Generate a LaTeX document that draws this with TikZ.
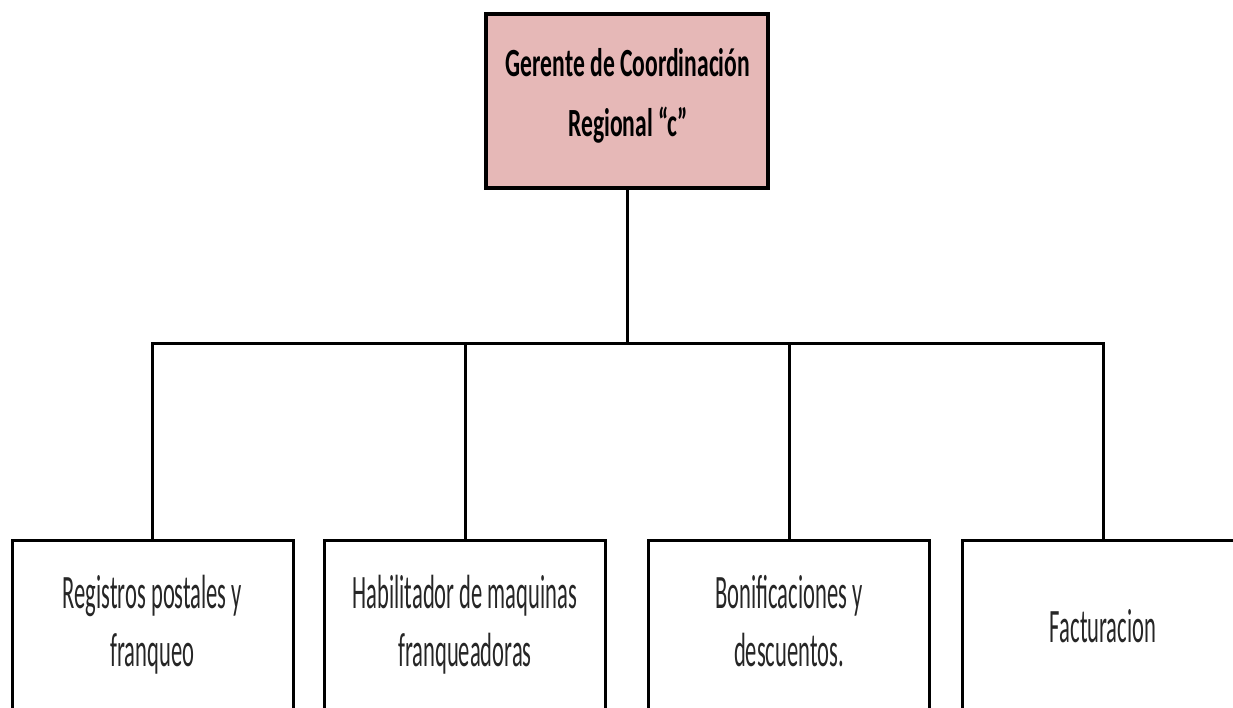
\documentclass[tikz,border=0pt]{standalone}
\usepackage{fontspec}
\setmainfont{Carlito}
\definecolor{headfill}{HTML}{E6B8B7}
\begin{document}
\begin{tikzpicture}[x=1pt,y=-1pt,
  line width=3pt,
  headbox/.style={draw=black, line width=3.5pt, fill=headfill, minimum width=282pt, minimum height=174pt, inner sep=0pt},
  unitbox/.style={draw=black, minimum width=281pt, minimum height=172pt, inner sep=0pt, text=black!85},
  headtext/.style={font=\fontsize{40}{60}\selectfont\bfseries},
  unittext/.style={font=\fontsize{48}{58}\selectfont}
]
\useasboundingbox (0,0) rectangle (1233,708);
\clip (0,0) rectangle (1233,708);

% head of the unit
\node[headbox, headtext] (head) at (627,101) {};
\node[headtext] (headlabel) at (628,95)
  {\scalebox{0.59}[1]{\begin{tabular}{@{}c@{}}Gerente de Coordinación\\Regional “c”\end{tabular}}};

% subordinate units
\node[unitbox, unittext] (reg) at (152.5,626)
  {\scalebox{0.47}[1]{\begin{tabular}{@{}c@{}}Registros postales y\\franqueo\end{tabular}}};
\node[unitbox, unittext] (hab) at (465,626)
  {\scalebox{0.47}[1]{\begin{tabular}{@{}c@{}}Habilitador de maquinas\\franqueadoras\end{tabular}}};
\node[unitbox, unittext] (bon) at (789,626)
  {\scalebox{0.47}[1]{\begin{tabular}{@{}c@{}}Bonificaciones y\\descuentos.\end{tabular}}};
\node[unitbox, unittext] (fac) at (1103,626)
  {\scalebox{0.47}[1]{Facturacion}};

% connectors
\coordinate (bus) at (627,343);
\draw (head.south) -- (bus);
\draw (reg.north) -- (reg.north |- bus) -- (fac.north |- bus) -- (fac.north);
\draw (hab.north) -- (hab.north |- bus);
\draw (bon.north) -- (bon.north |- bus);
\end{tikzpicture}
\end{document}
